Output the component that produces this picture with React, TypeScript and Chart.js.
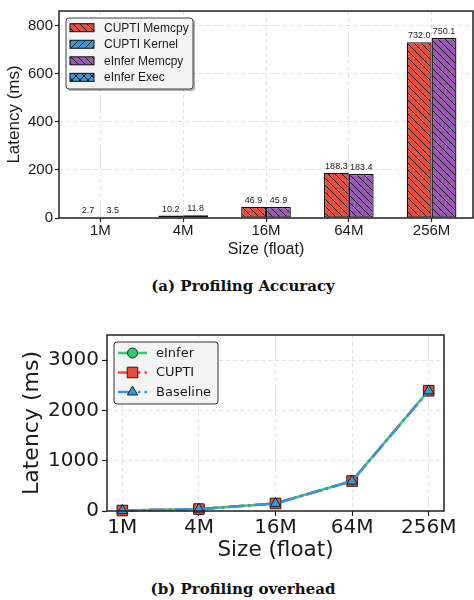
import React, { useEffect, useRef } from "react";
import { Chart, registerables } from "chart.js";
Chart.register(...registerables);

// ---------- data ----------
const sizes = ["1M", "4M", "16M", "64M", "256M"];
const cuptiMemcpy = [2.7, 10.2, 46.9, 188.3, 732.0];
const cuptiKernel = [0, 0, 0, 0, 0];
const einferMemcpy = [3.5, 11.8, 45.9, 183.4, 750.1];
const einferExec = [0, 0, 0, 0, 0];
const accuracyTicks = [0, 200, 400, 600, 800];

const overheadEinfer = [9.8, 38.5, 150.2, 598.1, 2395];
const overheadCupti = [9.6, 38.1, 149.5, 596.7, 2392];
const overheadBaseline = [9.3, 37.6, 148.8, 595.0, 2388];
const overheadTicks = [0, 1000, 2000, 3000];

const RED = "#e74c3c";
const BLUE = "#3498db";
const PURPLE = "#9b59b6";
const GREEN = "#2ecc71";
const GRID = "rgba(0,0,0,0.11)";
const INK = "#1a1a1a";
const SANS = "'Liberation Sans', Arial, sans-serif";
const DEJAVU = "'DejaVu Sans', sans-serif";

function hatch(ctx: CanvasRenderingContext2D, color: string, kind: "back" | "fwd" | "cross", s = 7) {
  const c = document.createElement("canvas");
  c.width = s;
  c.height = s;
  const g = c.getContext("2d")!;
  g.fillStyle = color;
  g.fillRect(0, 0, s, s);
  g.strokeStyle = "#111";
  g.lineWidth = 1;
  g.beginPath();
  if (kind === "back" || kind === "cross") {
    for (const k of [-s, 0, s]) {
      g.moveTo(0, k);
      g.lineTo(s, s + k);
    }
  }
  if (kind === "fwd" || kind === "cross") {
    for (const k of [0, s, 2 * s]) {
      g.moveTo(0, k);
      g.lineTo(s, k - s);
    }
  }
  g.stroke();
  return ctx.createPattern(c, "repeat")!;
}

function roundRect(ctx: CanvasRenderingContext2D, x: number, y: number, w: number, h: number, r: number) {
  ctx.beginPath();
  ctx.moveTo(x + r, y);
  ctx.lineTo(x + w - r, y);
  ctx.arcTo(x + w, y, x + w, y + r, r);
  ctx.lineTo(x + w, y + h - r);
  ctx.arcTo(x + w, y + h, x + w - r, y + h, r);
  ctx.lineTo(x + r, y + h);
  ctx.arcTo(x, y + h, x, y + h - r, r);
  ctx.lineTo(x, y + r);
  ctx.arcTo(x, y, x + r, y, r);
  ctx.closePath();
}

const framePlugin = {
  id: "frame",
  afterDatasetsDraw(chart: any) {
    const { ctx, chartArea: a } = chart;
    ctx.save();
    ctx.strokeStyle = "#222";
    ctx.lineWidth = 1.5;
    ctx.strokeRect(a.left, a.top, a.right - a.left, a.bottom - a.top);
    ctx.restore();
  },
};

function AccuracyChart() {
  const ref = useRef<HTMLCanvasElement>(null);
  useEffect(() => {
    const ctx = ref.current!.getContext("2d")!;
    const fills = [
      hatch(ctx, RED, "back"),
      hatch(ctx, BLUE, "fwd"),
      hatch(ctx, PURPLE, "back"),
      hatch(ctx, BLUE, "cross", 8),
    ];
    const labelsPlugin = {
      id: "barLabels",
      afterDatasetsDraw(chart: any) {
        const c = chart.ctx;
        c.save();
        c.font = `9px ${SANS}`;
        c.fillStyle = "#222";
        c.textAlign = "center";
        c.textBaseline = "alphabetic";
        [0, 2].forEach((di) => {
          const meta = chart.getDatasetMeta(di);
          const data = chart.data.datasets[di].data;
          meta.data.forEach((el: any, i: number) => {
            c.fillText(Number(data[i]).toFixed(1), el.x, el.y - 4);
          });
        });
        c.restore();
      },
    };
    const legendPlugin = {
      id: "boxLegend",
      afterDraw(chart: any) {
        const c = chart.ctx;
        const a = chart.chartArea;
        const x0 = a.left + 7;
        const y0 = a.top + 7;
        const w = 127;
        const h = 71;
        c.save();
        c.fillStyle = "rgba(0,0,0,0.3)";
        roundRect(c, x0 + 2, y0 + 2, w, h, 3);
        c.fill();
        c.fillStyle = "#f4f4f4";
        roundRect(c, x0, y0, w, h, 3);
        c.fill();
        c.strokeStyle = "#444";
        c.lineWidth = 1;
        c.stroke();
        c.font = `12px ${SANS}`;
        c.textBaseline = "middle";
        c.textAlign = "left";
        chart.data.datasets.forEach((ds: any, i: number) => {
          const cy = y0 + 9.7 + i * 16.55;
          c.fillStyle = fills[i];
          c.fillRect(x0 + 4, cy - 4, 24, 8);
          c.strokeStyle = "#111";
          c.lineWidth = 1;
          c.strokeRect(x0 + 4, cy - 4, 24, 8);
          c.fillStyle = INK;
          c.fillText(ds.label, x0 + 38, cy + 0.5);
        });
        c.restore();
      },
    };
    const chart = new Chart(ctx, {
      type: "bar",
      data: {
        labels: sizes,
        datasets: [
          { label: "CUPTI Memcpy", data: cuptiMemcpy, stack: "cupti", backgroundColor: fills[0], borderColor: "#111", borderWidth: 1.3, borderSkipped: false },
          { label: "CUPTI Kernel", data: cuptiKernel, stack: "cupti", backgroundColor: fills[1], borderColor: "#111", borderWidth: 0 },
          { label: "eInfer Memcpy", data: einferMemcpy, stack: "einfer", backgroundColor: fills[2], borderColor: "#111", borderWidth: 1.3, borderSkipped: false },
          { label: "eInfer Exec", data: einferExec, stack: "einfer", backgroundColor: fills[3], borderColor: "#111", borderWidth: 0 },
        ] as any,
      },
      options: {
        responsive: false,
        animation: false,
        devicePixelRatio: 1,
        layout: { padding: { top: 6, right: 1, left: 0, bottom: 0 } },
        plugins: { legend: { display: false }, tooltip: { enabled: false } },
        datasets: { bar: { categoryPercentage: 0.6, barPercentage: 1 } },
        scales: {
          x: {
            offset: true,
            border: { display: false, dash: [4, 3] },
            grid: { offset: false, color: GRID, tickColor: "#222", tickLength: 4, tickWidth: 1.2, tickBorderDash: [] },
            ticks: { color: INK, font: { family: SANS, size: 15 }, padding: 0, maxRotation: 0 },
            title: { display: true, text: "Size (float)", color: INK, font: { family: SANS, size: 16 }, padding: { top: 0, bottom: 3 } },
            afterFit: (s: any) => { s.height = 44; },
          },
          y: {
            stacked: true,
            min: 0,
            max: 862,
            border: { display: false, dash: [4, 3] },
            grid: { color: GRID, tickColor: "#222", tickLength: 4, tickWidth: 1.2, tickBorderDash: [] },
            afterBuildTicks: (s: any) => { s.ticks = accuracyTicks.map((v) => ({ value: v })); },
            ticks: { color: INK, font: { family: SANS, size: 15 }, padding: 2, callback: (v: any) => String(v) },
            title: { display: true, text: "Latency (ms)", color: INK, font: { family: SANS, size: 17 }, padding: { top: 4, bottom: 0 } },
            afterFit: (s: any) => { s.width = 59; },
          },
        },
      } as any,
      plugins: [framePlugin, labelsPlugin, legendPlugin],
    });
    return () => chart.destroy();
  }, []);
  return <canvas ref={ref} width={474} height={262} style={{ position: "absolute", left: 0, top: 0, width: 474, height: 262 }} />;
}

function drawMarker(c: CanvasRenderingContext2D, style: string, x: number, y: number, fill: string) {
  c.beginPath();
  if (style === "circle") {
    c.arc(x, y, 5, 0, Math.PI * 2);
  } else if (style === "rect") {
    c.rect(x - 5.3, y - 5.3, 10.6, 10.6);
  } else {
    const r = 6;
    c.moveTo(x, y - r);
    c.lineTo(x + r * 0.866, y + r * 0.5);
    c.lineTo(x - r * 0.866, y + r * 0.5);
    c.closePath();
  }
  c.fillStyle = fill;
  c.fill();
  c.strokeStyle = "#222";
  c.lineWidth = 1;
  c.stroke();
}

function OverheadChart() {
  const ref = useRef<HTMLCanvasElement>(null);
  useEffect(() => {
    const ctx = ref.current!.getContext("2d")!;
    const series = [
      { label: "eInfer", values: overheadEinfer, color: GREEN, dash: [] as number[], style: "circle", radius: 5, order: 2 },
      { label: "CUPTI", values: overheadCupti, color: RED, dash: [16, 4, 2.5, 4], style: "rect", radius: 7.5, order: 1 },
      { label: "Baseline", values: overheadBaseline, color: BLUE, dash: [16, 4, 2.5, 4], style: "triangle", radius: 6, order: 0 },
    ];
    const legendPlugin = {
      id: "lineLegend",
      afterDraw(chart: any) {
        const c = chart.ctx;
        const a = chart.chartArea;
        const x0 = a.left + 7;
        const y0 = a.top + 7;
        const w = 104;
        const h = 62;
        c.save();
        c.fillStyle = "#f4f4f4";
        roundRect(c, x0, y0, w, h, 3);
        c.fill();
        c.strokeStyle = "#333";
        c.lineWidth = 1;
        c.stroke();
        c.font = `13px ${DEJAVU}`;
        c.textBaseline = "middle";
        c.textAlign = "left";
        series.forEach((s, i) => {
          const cy = y0 + 11 + i * 19.5;
          c.strokeStyle = s.color;
          c.lineWidth = 2.5;
          c.setLineDash(s.dash);
          c.beginPath();
          c.moveTo(x0 + 4, cy);
          c.lineTo(x0 + 33, cy);
          c.stroke();
          c.setLineDash([]);
          drawMarker(c, s.style, x0 + 18.5, cy, s.color);
          c.fillStyle = INK;
          c.fillText(s.label, x0 + 42, cy + 0.5);
        });
        c.restore();
      },
    };
    const chart = new Chart(ctx, {
      type: "line",
      data: {
        datasets: series.map((s) => ({
          label: s.label,
          data: s.values.map((v, i) => ({ x: i, y: v })),
          borderColor: s.color,
          backgroundColor: s.color,
          borderWidth: 2.5,
          borderDash: s.dash,
          pointStyle: s.style,
          pointRadius: s.radius,
          pointBackgroundColor: s.color,
          pointBorderColor: "#222",
          pointBorderWidth: 1,
          order: s.order,
          clip: 12,
          tension: 0,
        })) as any,
      },
      options: {
        responsive: false,
        animation: false,
        devicePixelRatio: 1,
        layout: { padding: { top: 13, right: 30, left: 0, bottom: 0 } },
        plugins: { legend: { display: false }, tooltip: { enabled: false } },
        scales: {
          x: {
            type: "linear",
            min: -0.2,
            max: 4.2,
            border: { display: false, dash: [4, 3] },
            grid: { color: GRID, tickColor: "#222", tickLength: 5, tickWidth: 1.2, tickBorderDash: [] },
            afterBuildTicks: (s: any) => { s.ticks = sizes.map((_, i) => ({ value: i })); },
            ticks: { color: INK, font: { family: DEJAVU, size: 20 }, padding: 0, maxRotation: 0, callback: (v: any) => sizes[v] },
            title: { display: true, text: "Size (float)", color: INK, font: { family: DEJAVU, size: 21.5 }, padding: { top: 0, bottom: 3 } },
            afterFit: (s: any) => { s.height = 55; },
          },
          y: {
            min: 0,
            max: 3500,
            border: { display: false, dash: [4, 3] },
            grid: { color: GRID, tickColor: "#222", tickLength: 5, tickWidth: 1.2, tickBorderDash: [] },
            afterBuildTicks: (s: any) => { s.ticks = overheadTicks.map((v) => ({ value: v })); },
            ticks: { color: INK, font: { family: DEJAVU, size: 20 }, padding: 3, callback: (v: any) => String(v) },
            title: { display: true, text: "Latency (ms)", color: INK, font: { family: DEJAVU, size: 22 }, padding: { top: 19, bottom: 0 } },
            afterFit: (s: any) => { s.width = 107; },
          },
        },
      } as any,
      plugins: [framePlugin, legendPlugin],
    });
    return () => chart.destroy();
  }, []);
  return <canvas ref={ref} width={474} height={246} style={{ position: "absolute", left: 0, top: 320, width: 474, height: 246 }} />;
}

const captionStyle: React.CSSProperties = {
  position: "absolute",
  left: 0,
  width: 486,
  textAlign: "center",
  fontFamily: "'DejaVu Serif', serif",
  fontWeight: "bold",
  fontSize: 15,
  lineHeight: "18px",
  color: "#111",
  whiteSpace: "nowrap",
};

export default function App() {
  return (
    <div style={{ position: "absolute", left: 0, top: 0, width: 474, height: 600, background: "#fff", overflow: "hidden" }}>
      <AccuracyChart />
      <div style={{ ...captionStyle, top: 277 }}>(a) Profiling Accuracy</div>
      <OverheadChart />
      <div style={{ ...captionStyle, top: 580 }}>(b) Profiling overhead</div>
    </div>
  );
}
